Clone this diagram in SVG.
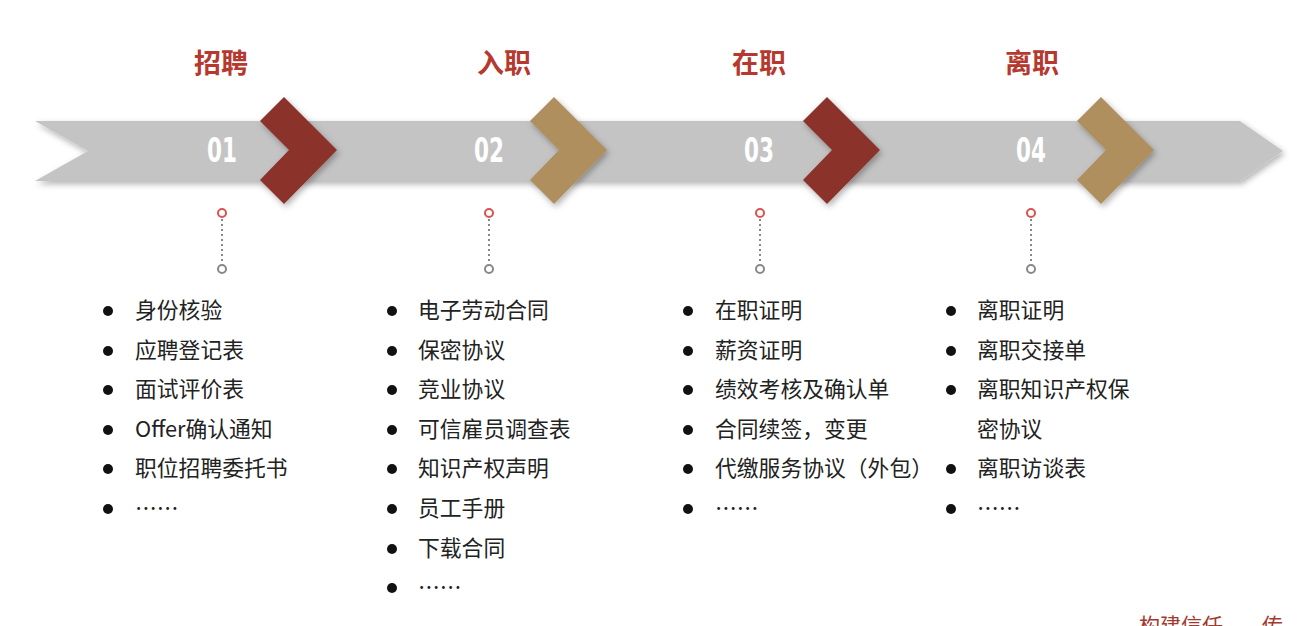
<svg xmlns="http://www.w3.org/2000/svg" width="1302" height="626" viewBox="0 0 1302 626">
<defs>
<filter id="sh" x="-20%" y="-20%" width="140%" height="150%">
<feDropShadow dx="2" dy="3" stdDeviation="3" flood-color="#000" flood-opacity="0.3"/>
</filter>
<style>
.title{font-family:"Noto Sans CJK SC","Noto Sans",sans-serif;font-weight:bold;font-size:27px;fill:#B5392F;text-anchor:middle}
.num{font-family:"DejaVu Sans Condensed","DejaVu Sans",sans-serif;font-weight:bold;font-size:33px;fill:#fff;text-anchor:middle}
.item{font-family:"Noto Sans CJK SC","Noto Sans",sans-serif;font-size:21.8px;fill:#222}
.bul{fill:#111}
.red{fill:#8B3329}
.tan{fill:#B08F5E}
.dotr{fill:#fff;stroke:#D9534F;stroke-width:2}
.dotg{fill:#fff;stroke:#888;stroke-width:2}
.dl{stroke:#888;stroke-width:2;stroke-dasharray:2 3}
.foot{font-family:"Noto Sans CJK SC",sans-serif;font-size:21px;fill:#A33A30}
</style>
</defs>
<rect width="1302" height="626" fill="#fff"/>
<g id="band">
<polygon points="35,121 1240,121 1283,151 1240,181 35,181 88,151" fill="#C4C4C4" filter="url(#sh)"/>
</g>
<g id="step1">
<text class="title" x="221" y="73">招聘</text>
<text class="num" x="222" y="162" textLength="30" lengthAdjust="spacingAndGlyphs">01</text>
<polygon class="red" filter="url(#sh)" points="260,121 284,97 337,150 284,204 260,180 289,150"/>
</g>
<g id="step2">
<text class="title" x="504" y="73">入职</text>
<text class="num" x="489" y="162" textLength="30" lengthAdjust="spacingAndGlyphs">02</text>
<polygon class="tan" filter="url(#sh)" points="530,121 554,97 607,150 554,204 530,180 559,150"/>
</g>
<g id="step3">
<text class="title" x="759" y="73">在职</text>
<text class="num" x="759" y="162" textLength="30" lengthAdjust="spacingAndGlyphs">03</text>
<polygon class="red" filter="url(#sh)" points="803,121 827,97 880,150 827,204 803,180 832,150"/>
</g>
<g id="step4">
<text class="title" x="1032" y="73">离职</text>
<text class="num" x="1031" y="162" textLength="30" lengthAdjust="spacingAndGlyphs">04</text>
<polygon class="tan" filter="url(#sh)" points="1077,121 1101,97 1154,150 1101,204 1077,180 1106,150"/>
</g>
<g id="connectors">
<line class="dl" x1="222" y1="219" x2="222" y2="264"/>
<circle class="dotr" cx="222" cy="213" r="4"/>
<circle class="dotg" cx="222" cy="269" r="4"/>
<line class="dl" x1="489" y1="219" x2="489" y2="264"/>
<circle class="dotr" cx="489" cy="213" r="4"/>
<circle class="dotg" cx="489" cy="269" r="4"/>
<line class="dl" x1="760" y1="219" x2="760" y2="264"/>
<circle class="dotr" cx="760" cy="213" r="4"/>
<circle class="dotg" cx="760" cy="269" r="4"/>
<line class="dl" x1="1031" y1="219" x2="1031" y2="264"/>
<circle class="dotr" cx="1031" cy="213" r="4"/>
<circle class="dotg" cx="1031" cy="269" r="4"/>
</g>
<g id="list1">
<circle class="bul" cx="108" cy="311" r="5"/><text class="item" x="135" y="318">身份核验</text>
<circle class="bul" cx="108" cy="351" r="5"/><text class="item" x="135" y="358">应聘登记表</text>
<circle class="bul" cx="108" cy="390" r="5"/><text class="item" x="135" y="397">面试评价表</text>
<circle class="bul" cx="108" cy="430" r="5"/><text class="item" x="135" y="437">Offer确认通知</text>
<circle class="bul" cx="108" cy="469" r="5"/><text class="item" x="135" y="476">职位招聘委托书</text>
<circle class="bul" cx="108" cy="509" r="5"/><text class="item" x="135" y="516">……</text>
</g>
<g id="list2">
<circle class="bul" cx="392" cy="311" r="5"/><text class="item" x="418" y="318">电子劳动合同</text>
<circle class="bul" cx="392" cy="351" r="5"/><text class="item" x="418" y="358">保密协议</text>
<circle class="bul" cx="392" cy="390" r="5"/><text class="item" x="418" y="397">竞业协议</text>
<circle class="bul" cx="392" cy="430" r="5"/><text class="item" x="418" y="437">可信雇员调查表</text>
<circle class="bul" cx="392" cy="469" r="5"/><text class="item" x="418" y="476">知识产权声明</text>
<circle class="bul" cx="392" cy="509" r="5"/><text class="item" x="418" y="516">员工手册</text>
<circle class="bul" cx="392" cy="549" r="5"/><text class="item" x="418" y="556">下载合同</text>
<circle class="bul" cx="392" cy="588" r="5"/><text class="item" x="418" y="595">……</text>
</g>
<g id="list3">
<circle class="bul" cx="688" cy="311" r="5"/><text class="item" x="715" y="318">在职证明</text>
<circle class="bul" cx="688" cy="351" r="5"/><text class="item" x="715" y="358">薪资证明</text>
<circle class="bul" cx="688" cy="390" r="5"/><text class="item" x="715" y="397">绩效考核及确认单</text>
<circle class="bul" cx="688" cy="430" r="5"/><text class="item" x="715" y="437">合同续签，变更</text>
<circle class="bul" cx="688" cy="469" r="5"/><text class="item" x="715" y="476">代缴服务协议（外包）</text>
<circle class="bul" cx="688" cy="509" r="5"/><text class="item" x="715" y="516">……</text>
</g>
<g id="list4">
<circle class="bul" cx="951" cy="311" r="5"/><text class="item" x="977" y="318">离职证明</text>
<circle class="bul" cx="951" cy="351" r="5"/><text class="item" x="977" y="358">离职交接单</text>
<circle class="bul" cx="951" cy="390" r="5"/><text class="item" x="977" y="397">离职知识产权保</text>
<text class="item" x="977" y="437">密协议</text>
<circle class="bul" cx="951" cy="469" r="5"/><text class="item" x="977" y="476">离职访谈表</text>
<circle class="bul" cx="951" cy="509" r="5"/><text class="item" x="977" y="516">……</text>
</g>
<g id="footer">
<text class="foot" x="1139" y="633">构建信任</text>
<text class="foot" x="1262" y="633">传</text>
</g>
</svg>
